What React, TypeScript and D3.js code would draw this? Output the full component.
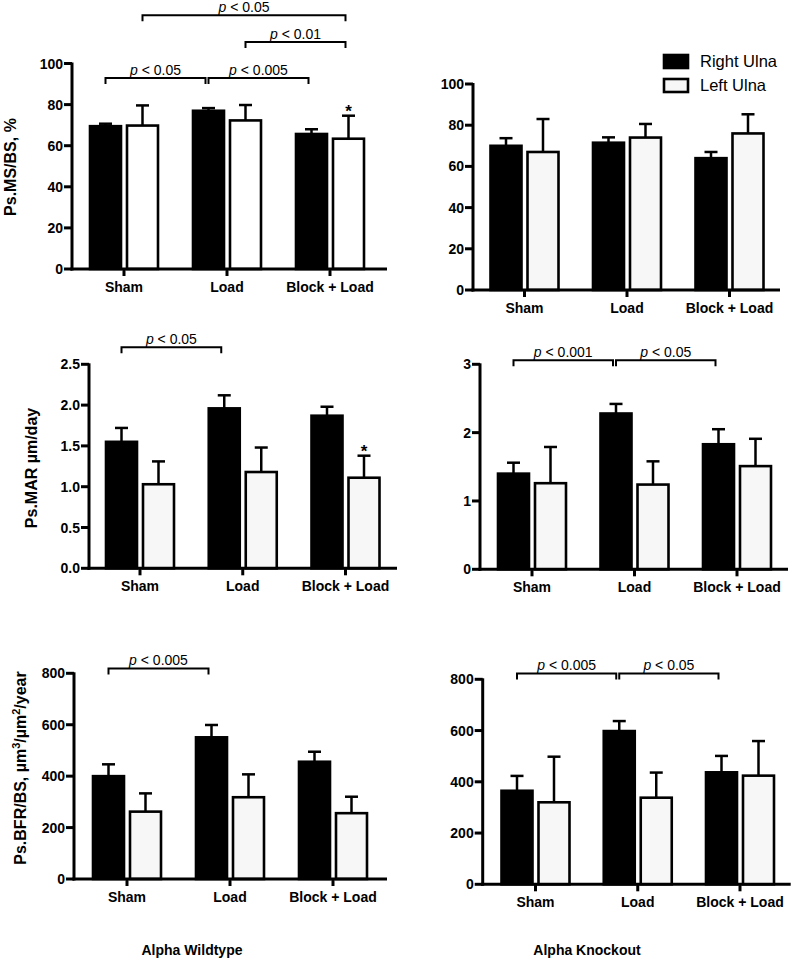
import * as d3 from 'd3';

// ---- data ----
const categories = ['Sham', 'Load', 'Block + Load'];
const seriesNames = ['Right Ulna', 'Left Ulna'];

const msbsWildRight = [69.5, 77, 65.7];
const msbsWildRightErr = [1.2, 1.3, 2.3];
const msbsWildLeft = [69.8, 72.3, 63.4];
const msbsWildLeftErr = [9.8, 7.5, 11.2];

const msbsKoRight = [70, 71.5, 64];
const msbsKoRightErr = [3.7, 2.6, 3];
const msbsKoLeft = [67, 74, 76];
const msbsKoLeftErr = [16, 6.6, 9.3];

const marWildRight = [1.55, 1.96, 1.87];
const marWildRightErr = [0.17, 0.16, 0.11];
const marWildLeft = [1.03, 1.18, 1.11];
const marWildLeftErr = [0.28, 0.3, 0.27];

const marKoRight = [1.4, 2.28, 1.83];
const marKoRightErr = [0.16, 0.14, 0.22];
const marKoLeft = [1.26, 1.24, 1.51];
const marKoLeftErr = [0.53, 0.34, 0.4];

const bfrWildRight = [400, 551, 456];
const bfrWildRightErr = [46, 48, 39];
const bfrWildLeft = [262, 318, 256];
const bfrWildLeftErr = [71, 89, 64];

const bfrKoRight = [365, 598, 437];
const bfrKoRightErr = [58, 39, 64];
const bfrKoLeft = [320, 338, 424];
const bfrKoLeftErr = [178, 98, 135];

const msbsTicks = [0, 20, 40, 60, 80, 100];
const marWildTicks = [0, 0.5, 1, 1.5, 2, 2.5];
const marKoTicks = [0, 1, 2, 3];
const bfrTicks = [0, 200, 400, 600, 800];

// brackets: [category, series] -> [category, series], height in data units
type Bracket = { from: [number, number]; to: [number, number]; level: number; label: string };

const msbsWildBrackets: Bracket[] = [
  { from: [0, 0], to: [1, 0], level: 93, label: '< 0.05' },
  { from: [1, 0], to: [2, 0], level: 93, label: '< 0.005' },
  { from: [1, 1], to: [2, 1], level: 110.5, label: '< 0.01' },
  { from: [0, 1], to: [2, 1], level: 123.5, label: '< 0.05' },
];
const marWildBrackets: Bracket[] = [{ from: [0, 0], to: [1, 0], level: 2.71, label: '< 0.05' }];
const marKoBrackets: Bracket[] = [
  { from: [0, 0], to: [1, 0], level: 3.06, label: '< 0.001' },
  { from: [1, 0], to: [2, 0], level: 3.06, label: '< 0.05' },
];
const bfrWildBrackets: Bracket[] = [{ from: [0, 0], to: [1, 0], level: 819, label: '< 0.005' }];
const bfrKoBrackets: Bracket[] = [
  { from: [0, 0], to: [1, 0], level: 823, label: '< 0.005' },
  { from: [1, 0], to: [2, 0], level: 823, label: '< 0.05' },
];

const FONT = "Arial, 'Liberation Sans', Helvetica, sans-serif";

interface Layout {
  axisX: number;
  yTop: number;
  yBottom: number;
  xEnd: number;
  c0: number;
  c1: number;
}

interface PanelProps {
  layout: Layout;
  right: number[];
  rightErr: number[];
  left: number[];
  leftErr: number[];
  ticks: number[];
  tickFormat: (v: number) => string;
  brackets: Bracket[];
  stars?: number[]; // categories with * over left ulna
  leftFill: string;
}

function Panel({ layout, right, rightErr, left, leftErr, ticks, tickFormat, brackets, stars = [], leftFill }: PanelProps) {
  const { axisX, yTop, yBottom, xEnd, c0, c1 } = layout;
  const yMax = ticks[ticks.length - 1];
  const y = d3.scaleLinear().domain([0, yMax]).range([yBottom, yTop]);
  const x = d3.scalePoint<string>().domain(categories).range([c0, c1]);
  const inner = d3.scaleBand<string>().domain(seriesNames).range([-34, 34]).paddingInner(0.162);
  const bw = inner.bandwidth();

  const vals = [right, left];
  const errs = [rightErr, leftErr];
  const barCenter = (ci: number, si: number) => x(categories[ci])! + inner(seriesNames[si])! + bw / 2;

  return (
    <g fontFamily={FONT}>
      {seriesNames.map((s, si) =>
        categories.map((c, ci) => {
          const v = vals[si][ci];
          const e = errs[si][ci];
          const bx = x(c)! + inner(s)!;
          const cx = bx + bw / 2;
          return (
            <g key={s + c}>
              <line x1={cx} x2={cx} y1={y(v)} y2={y(v + e)} stroke="#000" strokeWidth={2.5} />
              <line x1={cx - 6.5} x2={cx + 6.5} y1={y(v + e)} y2={y(v + e)} stroke="#000" strokeWidth={2.5} />
              <rect
                x={bx}
                y={y(v)}
                width={bw}
                height={y(0) - y(v)}
                fill={si === 0 ? '#000' : leftFill}
                stroke="#000"
                strokeWidth={2.6}
              />
            </g>
          );
        })
      )}
      {stars.map((ci) => (
        <text
          key={'star' + ci}
          x={barCenter(ci, 1)}
          y={y(left[ci] + leftErr[ci]) + 1}
          textAnchor="middle"
          fontSize={17}
          fontWeight="bold"
        >
          *
        </text>
      ))}
      {/* y axis */}
      <line x1={axisX} x2={axisX} y1={yTop - 1} y2={yBottom + 1.5} stroke="#000" strokeWidth={3} />
      {ticks.map((t) => (
        <g key={'yt' + t}>
          <line x1={axisX - 8} x2={axisX} y1={y(t)} y2={y(t)} stroke="#000" strokeWidth={3} />
          <text x={axisX - 9} y={y(t)} dy="0.36em" textAnchor="end" fontSize={14} fontWeight="bold">
            {tickFormat(t)}
          </text>
        </g>
      ))}
      {/* x axis */}
      <line x1={axisX - 1.5} x2={xEnd} y1={yBottom} y2={yBottom} stroke="#000" strokeWidth={3} />
      {categories.map((c) => (
        <g key={'xt' + c}>
          <line x1={x(c)} x2={x(c)} y1={yBottom} y2={yBottom + 7} stroke="#000" strokeWidth={3} />
          <text x={x(c)} y={yBottom + 23} textAnchor="middle" fontSize={14} fontWeight="bold">
            {c}
          </text>
        </g>
      ))}
      {brackets.map((b, i) => {
        const xa = barCenter(b.from[0], b.from[1]);
        const xb = barCenter(b.to[0], b.to[1]) - 3;
        const by = y(b.level);
        return (
          <g key={'br' + i}>
            <path
              d={`M${xa},${by + 6}V${by}H${xb}V${by + 6}`}
              fill="none"
              stroke="#000"
              strokeWidth={2}
            />
            <text x={(xa + xb) / 2} y={by - 3} textAnchor="middle" fontSize={14}>
              <tspan fontStyle="italic">p</tspan>
              {' ' + b.label}
            </text>
          </g>
        );
      })}
    </g>
  );
}

const layouts: Layout[] = [
  { axisX: 72, yTop: 63.5, yBottom: 269, xEnd: 387, c0: 124, c1: 330 },
  { axisX: 473, yTop: 84, yBottom: 290, xEnd: 780, c0: 524.5, c1: 729.5 },
  { axisX: 89, yTop: 364.3, yBottom: 568.3, xEnd: 397, c0: 140, c1: 345.5 },
  { axisX: 480, yTop: 364.3, yBottom: 569.3, xEnd: 788, c0: 532, c1: 737 },
  { axisX: 74, yTop: 673.3, yBottom: 879, xEnd: 387, c0: 127, c1: 333 },
  { axisX: 482.7, yTop: 679.3, yBottom: 884.3, xEnd: 790.7, c0: 535.5, c1: 740 },
];

const intFmt = d3.format('d');
const oneFmt = d3.format('.1f');

export default function App() {
  const softWhite = '#f7f7f7';
  return (
    <svg
      width={794}
      height={969}
      viewBox="0 0 794 969"
      style={{ position: 'absolute', left: 0, top: 0, background: '#fff' }}
    >
      <rect width={794} height={969} fill="#fff" />
      <Panel layout={layouts[0]} right={msbsWildRight} rightErr={msbsWildRightErr} left={msbsWildLeft}
        leftErr={msbsWildLeftErr} ticks={msbsTicks} tickFormat={intFmt} brackets={msbsWildBrackets}
        stars={[2]} leftFill="#fff" />
      <Panel layout={layouts[1]} right={msbsKoRight} rightErr={msbsKoRightErr} left={msbsKoLeft}
        leftErr={msbsKoLeftErr} ticks={msbsTicks} tickFormat={intFmt} brackets={[]} leftFill={softWhite} />
      <Panel layout={layouts[2]} right={marWildRight} rightErr={marWildRightErr} left={marWildLeft}
        leftErr={marWildLeftErr} ticks={marWildTicks} tickFormat={oneFmt} brackets={marWildBrackets}
        stars={[2]} leftFill={softWhite} />
      <Panel layout={layouts[3]} right={marKoRight} rightErr={marKoRightErr} left={marKoLeft}
        leftErr={marKoLeftErr} ticks={marKoTicks} tickFormat={intFmt} brackets={marKoBrackets} leftFill={softWhite} />
      <Panel layout={layouts[4]} right={bfrWildRight} rightErr={bfrWildRightErr} left={bfrWildLeft}
        leftErr={bfrWildLeftErr} ticks={bfrTicks} tickFormat={intFmt} brackets={bfrWildBrackets} leftFill={softWhite} />
      <Panel layout={layouts[5]} right={bfrKoRight} rightErr={bfrKoRightErr} left={bfrKoLeft}
        leftErr={bfrKoLeftErr} ticks={bfrTicks} tickFormat={intFmt} brackets={bfrKoBrackets} leftFill={softWhite} />

      {/* y axis titles */}
      <g fontFamily={FONT} fontWeight="bold" fontSize={16} textAnchor="middle">
        <text transform="translate(16,167) rotate(-90)">Ps.MS/BS, %</text>
        <text transform="translate(37,468) rotate(-90)">Ps.MAR µm/day</text>
        <text transform="translate(26,768) rotate(-90)">
          Ps.BFR/BS, µm<tspan fontSize={11} dy={-6}>3</tspan>
          <tspan dy={6}>/µm</tspan>
          <tspan fontSize={11} dy={-6}>2</tspan>
          <tspan dy={6}>/year</tspan>
        </text>
      </g>

      {/* legend */}
      <g fontFamily={FONT}>
        {seriesNames.map((s, i) => (
          <g key={s}>
            <rect x={664} y={55 + i * 24} width={24} height={13} fill={i === 0 ? '#000' : softWhite}
              stroke="#000" strokeWidth={2.6} />
            <text x={700} y={61.5 + i * 24} dy="0.36em" fontSize={16.5}>{s}</text>
          </g>
        ))}
      </g>

      {/* column titles */}
      <g fontFamily={FONT} fontWeight="bold" fontSize={14} textAnchor="middle">
        <text x={192} y={955}>Alpha Wildtype</text>
        <text x={587} y={955}>Alpha Knockout</text>
      </g>
    </svg>
  );
}
